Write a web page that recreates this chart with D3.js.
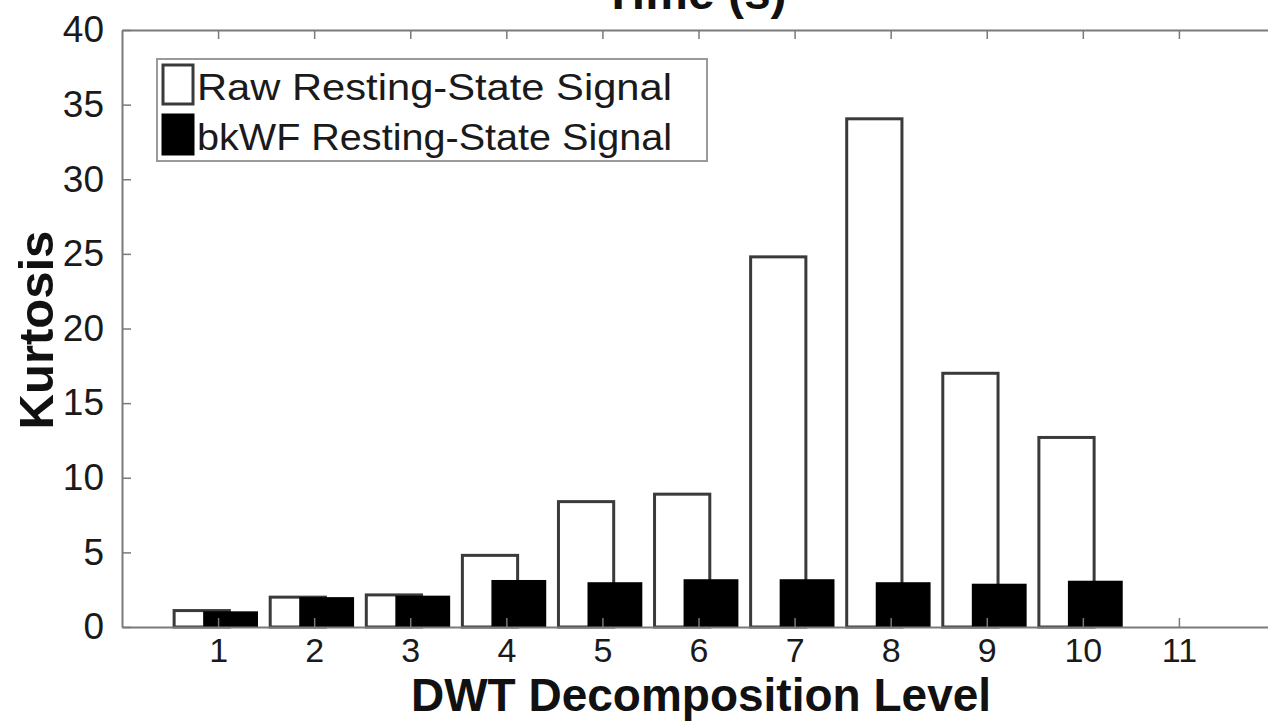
<!DOCTYPE html>
<html>
<head>
<meta charset="utf-8">
<script src="https://cdn.jsdelivr.net/npm/d3@7"></script>
<style>
  html, body { margin: 0; padding: 0; background: #fff; }
  svg { display: block; font-family: "Liberation Sans", Arial, sans-serif; }
</style>
</head>
<body>
<svg id="chart" width="1268" height="721"></svg>
<script>
// ---- data ----
const levels = [1, 2, 3, 4, 5, 6, 7, 8, 9, 10];
const rawKurtosis = [1.1, 2.0, 2.15, 4.8, 8.4, 8.9, 24.8, 34.05, 17.0, 12.7];
const bkwfKurtosis = [1.0, 1.95, 2.05, 3.1, 2.95, 3.15, 3.15, 2.95, 2.85, 3.05];
const xTickValues = [1, 2, 3, 4, 5, 6, 7, 8, 9, 10, 11];
const yTickValues = [0, 5, 10, 15, 20, 25, 30, 35, 40];
const seriesNames = ["Raw Resting-State Signal", "bkWF Resting-State Signal"];
const titleText = "Time (s)";
const xLabel = "DWT Decomposition Level";
const yLabel = "Kurtosis";

// ---- layout ----
const svg = d3.select("#chart");
const plot = { left: 122, right: 1275, top: 30, bottom: 627 };
const x = d3.scaleLinear().domain([0, 12]).range([plot.left, plot.right]);
const y = d3.scaleLinear().domain([0, 40]).range([plot.bottom, plot.top]);
const axisColor = "#7a7a7a";

// bars
const unit = x(1) - x(0);
const rawOffset = -0.17, rawWidth = 0.575;
const bkOffset = 0.13, bkWidth = 0.555;

const gBars = svg.append("g");
gBars.selectAll("rect.raw").data(levels).enter().append("rect")
  .attr("class", "raw")
  .attr("x", (d) => x(d + rawOffset - rawWidth / 2))
  .attr("width", rawWidth * unit)
  .attr("y", (d, i) => y(rawKurtosis[i]))
  .attr("height", (d, i) => y(0) - y(rawKurtosis[i]))
  .attr("fill", "#fff").attr("stroke", "#3a3a3a").attr("stroke-width", 3);
gBars.selectAll("rect.bk").data(levels).enter().append("rect")
  .attr("class", "bk")
  .attr("x", (d) => x(d + bkOffset - bkWidth / 2))
  .attr("width", bkWidth * unit)
  .attr("y", (d, i) => y(bkwfKurtosis[i]))
  .attr("height", (d, i) => y(0) - y(bkwfKurtosis[i]))
  .attr("fill", "#000").attr("stroke", "#000").attr("stroke-width", 1.5);

// axes
const tickLen = 9;
const bottomAxis = d3.axisBottom(x).tickValues(xTickValues).tickSizeInner(-tickLen).tickSizeOuter(0).tickPadding(11);
const topAxis = d3.axisTop(x).tickValues(xTickValues).tickSizeInner(-tickLen).tickSizeOuter(0).tickFormat("");
const leftAxis = d3.axisLeft(y).tickValues(yTickValues).tickSizeInner(-tickLen).tickSizeOuter(0).tickPadding(18);

function styleAxis(g) {
  g.select(".domain").attr("stroke", axisColor).attr("stroke-width", 2);
  g.selectAll(".tick line").attr("stroke", axisColor).attr("stroke-width", 1.5);
  g.selectAll(".tick text").attr("fill", "#1a1a1a")
    .style("font-size", "34px").style("font-family", "'Liberation Sans', Arial, sans-serif");
}
svg.append("g").attr("transform", `translate(0,${plot.bottom})`).call(bottomAxis).call(styleAxis)
  .selectAll(".tick text").attr("dy", "0.71em");
svg.append("g").attr("transform", `translate(0,${plot.top})`).call(topAxis).call(styleAxis);
svg.append("g").attr("transform", `translate(${plot.left},0)`).call(leftAxis).call(styleAxis)
  .selectAll(".tick text").style("font-size", "37px");

// titles
svg.append("text").attr("x", 695).attr("y", 9).attr("text-anchor", "middle")
  .style("font-size", "48px").style("font-weight", "bold").attr("fill", "#111").text(titleText);
svg.append("text").attr("x", 701).attr("y", 711).attr("text-anchor", "middle")
  .style("font-size", "46px").style("font-weight", "bold").attr("fill", "#111").text(xLabel);
svg.append("text").attr("transform", "translate(53,330) rotate(-90)").attr("text-anchor", "middle")
  .style("font-size", "49px").style("font-weight", "bold").attr("fill", "#111").text(yLabel);

// legend
const lg = svg.append("g");
lg.append("rect").attr("x", 157).attr("y", 59).attr("width", 550).attr("height", 102)
  .attr("fill", "#fff").attr("stroke", "#9a9a9a").attr("stroke-width", 2);
const swatchFill = ["#fff", "#000"];
const swatchStroke = ["#3a3a3a", "#000"];
seriesNames.forEach((name, i) => {
  const yy = 65 + i * 50;
  lg.append("rect").attr("x", 163).attr("y", yy).attr("width", 30).attr("height", 39)
    .attr("fill", swatchFill[i]).attr("stroke", swatchStroke[i]).attr("stroke-width", 3);
  lg.append("text").attr("x", 197).attr("y", yy + 35)
    .style("font-size", "37px").attr("fill", "#1a1a1a")
    .attr("textLength", 475).attr("lengthAdjust", "spacingAndGlyphs")
    .text(name);
});
</script>
</body>
</html>
